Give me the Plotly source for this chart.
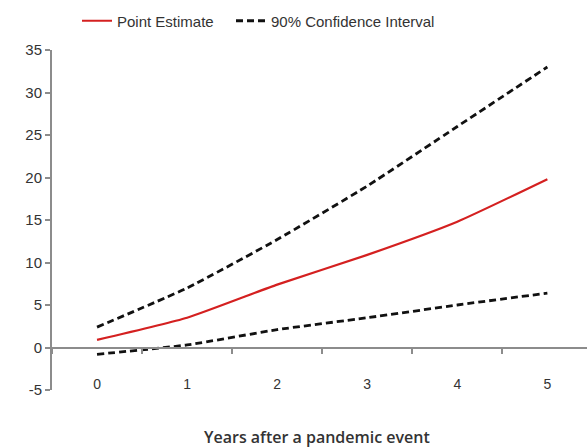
import plotly.graph_objects as go

years = ["0", "1", "2", "3", "4", "5"]
point_estimate = [0.9, 3.5, 7.4, 10.9, 14.8, 19.8]
ci_upper = [2.4, 7.0, 12.7, 19.0, 26.0, 33.0]
ci_lower = [-0.8, 0.3, 2.1, 3.5, 5.0, 6.4]
y_ticks = [-5, 0, 5, 10, 15, 20, 25, 30, 35]
y_tick_labels = ["-5", "0", "5", "10", "15", "20", "25", "30", "35"]

dash_style = "7px,4px"
fig = go.Figure()
fig.add_trace(go.Scatter(x=years, y=point_estimate, mode="lines", name="Point Estimate",
                         legend="legend",
                         line=dict(color="#d42020", width=2.2, shape="spline", smoothing=0.5)))
fig.add_trace(go.Scatter(x=years, y=ci_upper, mode="lines", name="90% Confidence Interval",
                         legend="legend2",
                         line=dict(color="#111111", width=2.8, dash=dash_style, shape="spline", smoothing=0.5)))
fig.add_trace(go.Scatter(x=years, y=ci_lower, mode="lines", name="90% Confidence Interval",
                         showlegend=False, legend="legend2",
                         line=dict(color="#111111", width=2.8, dash=dash_style, shape="spline", smoothing=0.5)))

axis_gray = "#8c8c8c"
legend_common = dict(orientation="h", xref="container", yref="container",
                     y=1 - 21 / 447, xanchor="left", yanchor="middle",
                     font=dict(size=15, color="#333333"), itemwidth=30,
                     bgcolor="rgba(0,0,0,0)")
fig.update_layout(
    width=587, height=447,
    margin=dict(l=52, r=0, t=50, b=57, autoexpand=False),
    paper_bgcolor="white", plot_bgcolor="white",
    font=dict(family="Liberation Sans, Arial", color="#333333"),
    showlegend=True,
    legend=dict(x=77 / 587, **legend_common),
    legend2=dict(x=231 / 587, **legend_common),
    xaxis=dict(type="category", range=[-0.5, 5.44], tickson="boundaries",
               ticks="outside", ticklen=5, tickcolor=axis_gray, tickwidth=1.5,
               showline=True, linecolor=axis_gray, linewidth=2,
               showgrid=False, zeroline=False, automargin=False,
               anchor="free", position=42 / 340,
               ticklabelstandoff=23,
               tickfont=dict(size=14, color="#333333")),
    yaxis=dict(range=[-5, 35], tickvals=y_ticks, ticktext=y_tick_labels,
               ticks="outside", ticklen=5,
               tickcolor=axis_gray, tickwidth=1.5,
               showline=True, linecolor=axis_gray, linewidth=2,
               showgrid=False, zeroline=False, automargin=False,
               tickfont=dict(size=15, color="#333333")),
    annotations=[dict(text="Years after a pandemic event", xref="paper", yref="paper",
                      x=(317 - 52) / 535, y=(390 - 437) / 340, xanchor="center", yanchor="middle",
                      showarrow=False,
                      font=dict(family="Open Sans", size=16, color="#333333", weight=600))],
)

fig.write_html("out.html", config={"displayModeBar": False},
               post_script="document.body.style.margin='0';")
